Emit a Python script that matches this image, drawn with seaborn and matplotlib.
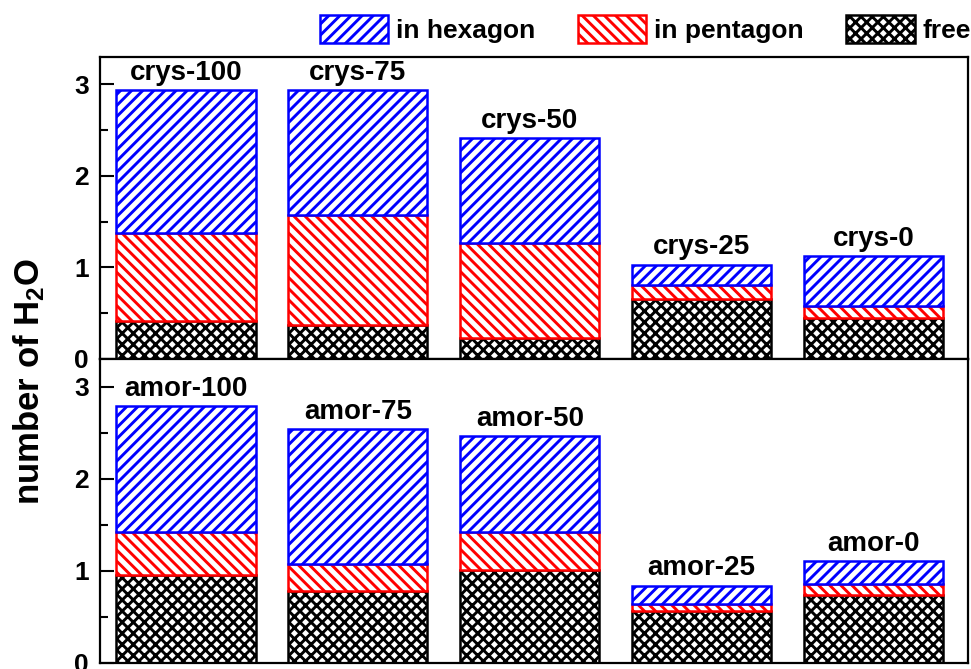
import numpy as np
import matplotlib
matplotlib.use('Agg')
import matplotlib.pyplot as plt
import seaborn as sns

# values (number of H2O per site type)
crys_labels = ['crys-100', 'crys-75', 'crys-50', 'crys-25', 'crys-0']
crys_free = [0.41, 0.37, 0.23, 0.65, 0.45]
crys_pent = [0.97, 1.20, 1.04, 0.16, 0.13]
crys_hex = [1.55, 1.36, 1.14, 0.22, 0.54]

amor_labels = ['amor-100', 'amor-75', 'amor-50', 'amor-25', 'amor-0']
amor_free = [0.96, 0.78, 1.01, 0.56, 0.74]
amor_pent = [0.46, 0.29, 0.41, 0.08, 0.12]
amor_hex = [1.37, 1.47, 1.04, 0.20, 0.25]

series_names = ['in hexagon', 'in pentagon', 'free']

sns.set_theme(style='ticks')
plt.rcParams['font.family'] = ['Liberation Sans', 'DejaVu Sans']
plt.rcParams['font.weight'] = 'bold'
plt.rcParams['text.color'] = 'black'
plt.rcParams['axes.labelcolor'] = 'black'
plt.rcParams['ytick.color'] = 'black'
plt.rcParams['xtick.color'] = 'black'
plt.rcParams['mathtext.fontset'] = 'custom'
plt.rcParams['mathtext.rm'] = 'Liberation Sans:bold'
plt.rcParams['mathtext.it'] = 'Liberation Sans:bold'
plt.rcParams['mathtext.bf'] = 'Liberation Sans:bold'
plt.rcParams['hatch.linewidth'] = 2.1

fig = plt.figure(figsize=(9.71, 6.69), dpi=100)
ax_top = fig.add_axes([0.103, 0.4634, 0.894, 0.4521])
ax_bot = fig.add_axes([0.103, 0.009, 0.894, 0.4544])


def stacked(ax, labels, free, pent, hexa):
    x = list(range(len(labels)))
    free = np.array(free)
    pent = np.array(pent)
    hexa = np.array(hexa)
    sns.barplot(x=x, y=free, color='white', edgecolor='black', hatch='xxx',
                linewidth=1.8, width=0.81, ax=ax, native_scale=True)
    sns.barplot(x=x, y=pent, bottom=free, color='white', edgecolor='red', hatch='\\\\\\',
                linewidth=1.8, width=0.81, ax=ax, native_scale=True)
    sns.barplot(x=x, y=hexa, bottom=free + pent, color='white', edgecolor='blue', hatch='///',
                linewidth=1.8, width=0.81, ax=ax, native_scale=True)
    ax.bar_label(ax.containers[-1], labels=labels, padding=3, fontsize=20,
                 fontweight='bold', color='black')
    ax.set_xlim(-0.5, 4.55)
    ax.set_ylim(0, 3.3)
    ax.set_xticks([])
    ax.set_yticks([0, 1, 2, 3])
    ax.set_yticks([0.5, 1.5, 2.5], minor=True)
    ax.tick_params(axis='y', which='major', direction='in', length=10, width=1.5,
                   labelsize=19, pad=8, colors='black')
    ax.tick_params(axis='y', which='minor', direction='in', length=6, width=1.5, colors='black')
    for lab in ax.get_yticklabels():
        lab.set_fontweight('bold')
    for sp in ax.spines.values():
        sp.set_linewidth(1.6)
        sp.set_color('black')
    ax.set_xlabel('')
    ax.set_ylabel('')


stacked(ax_top, crys_labels, crys_free, crys_pent, crys_hex)
stacked(ax_bot, amor_labels, amor_free, amor_pent, amor_hex)

c = ax_top.containers
fig.legend(handles=[c[2], c[1], c[0]], labels=series_names, ncol=3, loc='upper right',
           bbox_to_anchor=(1.0, 0.978), frameon=False,
           handlelength=2.6, handleheight=1.3, handletextpad=0.3, columnspacing=1.6,
           borderpad=0, borderaxespad=0, prop={'weight': 'bold', 'size': 19})

fig.text(0.03, 0.429, 'number of H$_2$O', rotation=90, ha='center', va='center',
         fontsize=25, fontweight='bold', color='black')

fig.savefig('out.png', dpi=100)
